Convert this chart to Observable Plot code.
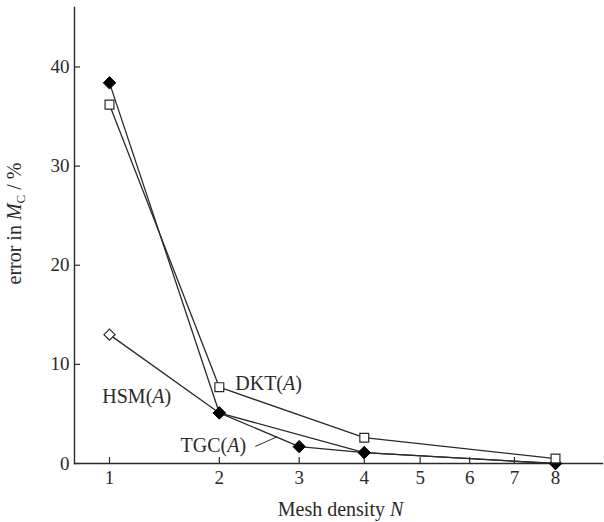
<!DOCTYPE html>
<html>
<head>
<meta charset="utf-8">
<script src="https://cdn.jsdelivr.net/npm/d3@7"></script>
<script src="https://cdn.jsdelivr.net/npm/@observablehq/plot@0.6"></script>
<style>
  html, body { margin: 0; padding: 0; background: #fff; }
  #chart { width: 604px; height: 522px; }
</style>
</head>
<body>
<div id="chart"></div>
<script>
// ---- data ----
const xTicks = [1, 2, 3, 4, 5, 6, 7, 8];
const yTicks = [0, 10, 20, 30, 40];

const tgcN = [1, 2, 3, 4, 8];
const tgcErr = [38.4, 5.1, 1.7, 1.1, 0.0];

const dktN = [1, 2, 4, 8];
const dktErr = [36.2, 7.7, 2.6, 0.5];

const hsmN = [1, 2, 4, 8];
const hsmErr = [13.0, 5.1, 1.1, 0.0];

// annotation labels (positions in data units)
const labelNames = ["HSM(A)", "DKT(A)", "TGC(A)"];
const labelN = [1.21, 2.18, 1.60];
const labelErr = [6.75, 8.05, 1.82];
const labelAnchor = ["middle", "start", "start"];
// leader line for TGC(A)
const leaderN = [2.42, 2.70];
const leaderErr = [1.72, 2.70];

const xTitle = "Mesh density N";
const yTitle = "error in MC / %";

// ---- build tables ----
const tgc = tgcN.map((n, i) => ({N: n, e: tgcErr[i]}));
const dkt = dktN.map((n, i) => ({N: n, e: dktErr[i]}));
const hsm = hsmN.map((n, i) => ({N: n, e: hsmErr[i]}));
const labels = labelNames.map((t, i) => ({t, N: labelN[i], e: labelErr[i], a: labelAnchor[i]}));
const leader = [{x1: leaderN[0], y1: leaderErr[0], x2: leaderN[1], y2: leaderErr[1]}];

const font = "'Liberation Serif', 'Times New Roman', serif";
const ink = "#2a2a2a";

const chart = Plot.plot({
  width: 604,
  height: 522,
  marginLeft: 74,
  marginRight: 2,
  marginTop: 7,
  marginBottom: 59,
  style: {fontFamily: font, fontSize: "19px", color: ink, background: "#fff"},
  x: {type: "pow", exponent: 0.4, domain: [1, 8], range: [109, 555]},
  y: {domain: [0, 46]},
  marks: [
    Plot.frame({anchor: "left", stroke: ink, strokeWidth: 1.4}),
    Plot.frame({anchor: "bottom", stroke: ink, strokeWidth: 1.4}),
    Plot.axisX({ticks: xTicks, tickSize: -6, tickPadding: 13, tickFormat: d => String(d), label: null, fontSize: 19, stroke: ink, strokeWidth: 1.2}),
    Plot.axisY({ticks: yTicks, tickSize: -6, tickPadding: 11, tickFormat: d => String(d), label: null, fontSize: 19, stroke: ink, strokeWidth: 1.2}),
    Plot.line(hsm, {x: "N", y: "e", stroke: ink, strokeWidth: 1.3}),
    Plot.line(tgc, {x: "N", y: "e", stroke: ink, strokeWidth: 1.3}),
    Plot.line(dkt, {x: "N", y: "e", stroke: ink, strokeWidth: 1.3}),
    Plot.dot(hsm, {x: "N", y: "e", symbol: "diamond2", r: 5, fill: "white", stroke: ink, strokeWidth: 1.2}),
    Plot.dot(tgc, {x: "N", y: "e", symbol: "diamond2", r: 5.6, fill: "black", stroke: "black", strokeWidth: 1}),
    Plot.dot(dkt, {x: "N", y: "e", symbol: "square", r: 5, fill: "white", stroke: ink, strokeWidth: 1.2}),
    Plot.link(leader, {x1: "x1", y1: "y1", x2: "x2", y2: "y2", stroke: ink, strokeWidth: 1}),
    Plot.text(labels.filter(d => d.a === "middle"), {x: "N", y: "e", text: "t", textAnchor: "middle", fontSize: 20, fill: ink, lineAnchor: "middle"}),
    Plot.text(labels.filter(d => d.a === "start"), {x: "N", y: "e", text: "t", textAnchor: "start", fontSize: 20, fill: ink, lineAnchor: "middle"}),
    Plot.text([xTitle], {frameAnchor: "bottom", textAnchor: "middle", dy: 46, dx: 2, fontSize: 20, fill: ink, lineAnchor: "middle"}),
    Plot.text([yTitle], {frameAnchor: "left", textAnchor: "middle", dx: -60, dy: -12, rotate: -90, fontSize: 20, fill: ink, lineAnchor: "middle"})
  ]
});

// rich text: italics and subscripts as real SVG tspans
function rich(node, parts) {
  while (node.firstChild) node.removeChild(node.firstChild);
  const ns = "http://www.w3.org/2000/svg";
  for (const p of parts) {
    const ts = document.createElementNS(ns, "tspan");
    ts.textContent = p.t;
    if (p.i) ts.setAttribute("font-style", "italic");
    if (p.s) ts.setAttribute("font-size", p.s);
    if (p.dy) ts.setAttribute("dy", p.dy);
    node.appendChild(ts);
  }
}
chart.querySelectorAll("text").forEach(el => {
  const s = el.textContent;
  if (s === "HSM(A)" || s === "DKT(A)" || s === "TGC(A)") {
    rich(el, [{t: s.slice(0, 4)}, {t: "A", i: true}, {t: ")"}]);
  } else if (s === xTitle) {
    rich(el, [{t: "Mesh density "}, {t: "N", i: true}]);
  } else if (s === yTitle) {
    rich(el, [{t: "error in "}, {t: "M", i: true}, {t: "C", s: "13px", dy: "4"}, {t: " / %", dy: "-4"}]);
  }
});

document.getElementById("chart").appendChild(chart);
</script>
</body>
</html>
